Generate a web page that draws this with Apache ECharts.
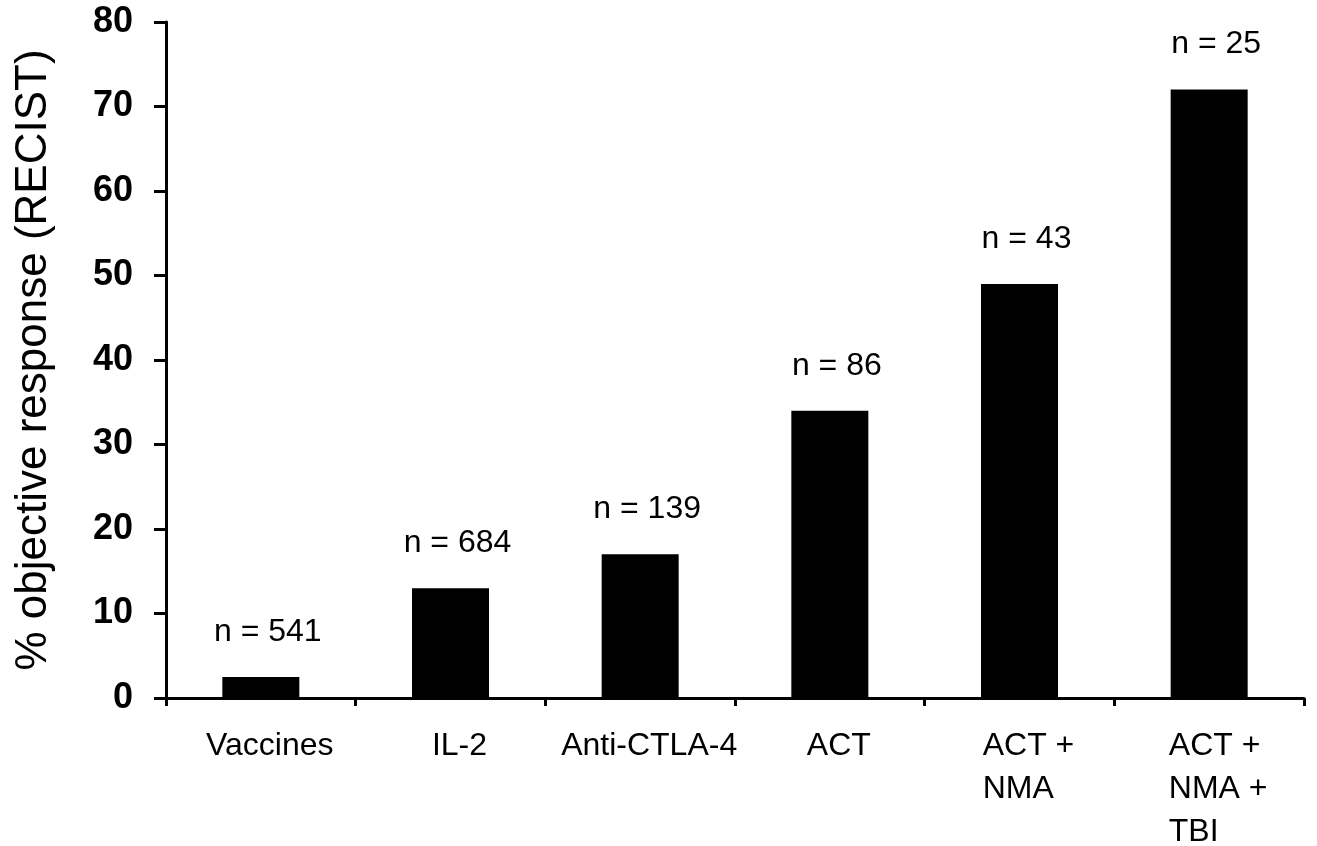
<!DOCTYPE html>
<html>
<head>
<meta charset="utf-8">
<script src="https://cdn.jsdelivr.net/npm/echarts@6/dist/echarts.min.js"></script>
<style>
  html, body { margin: 0; padding: 0; background: #fff; }
  #main { width: 1317px; height: 846px; }
</style>
</head>
<body>
<div id="main"></div>
<script>
// treatments and response rates
const categories = ['Vaccines', 'IL-2', 'Anti-CTLA-4', 'ACT', 'ACT +\nNMA', 'ACT +\nNMA +\nTBI'];
const responses = [2.5, 13, 17, 34, 49, 72];
const patientCounts = ['n = 541', 'n = 684', 'n = 139', 'n = 86', 'n = 43', 'n = 25'];
const yTicks = [0, 10, 20, 30, 40, 50, 60, 70, 80];

const chartDom = document.getElementById('main');
const myChart = echarts.init(chartDom);
const font = 'Liberation Sans, Arial, sans-serif';

const option = {
    animation: false,
    grid: { left: 166, right: 13, top: 22, bottom: 148, outerBoundsMode: 'none', containLabel: false },
    xAxis: {
        type: 'category',
        data: categories,
        axisLine: { lineStyle: { color: '#000', width: 3 } },
        axisTick: { show: true, length: 8, lineStyle: { color: '#000', width: 3 } },
        axisLabel: {
            margin: 27,
            color: '#000',
            fontFamily: font,
            fontSize: 32,
            lineHeight: 43,
            interval: 0,
            formatter: function (v) {
                return v.split('\n').map(function (s) { return '{l|' + s + '}'; }).join('\n');
            },
            rich: {
                l: { align: 'left', fontFamily: font, fontSize: 32, lineHeight: 43, color: '#000', padding: [0, 0, 0, 18] }
            }
        }
    },
    yAxis: {
        type: 'value',
        min: yTicks[0],
        max: yTicks[yTicks.length - 1],
        interval: 10,
        name: '% objective response (RECIST)',
        nameLocation: 'middle',
        nameGap: 110,
        nameTextStyle: { color: '#000', fontFamily: font, fontSize: 44 },
        axisLine: { show: true, lineStyle: { color: '#000', width: 3 } },
        axisTick: { show: true, length: 12, lineStyle: { color: '#000', width: 3 } },
        splitLine: { show: false },
        axisLabel: {
            margin: 33,
            color: '#000',
            fontFamily: font,
            fontSize: 36,
            fontWeight: 'bold'
        }
    },
    series: [
        {
            type: 'bar',
            data: responses,
            barWidth: 77,
            itemStyle: { color: '#000' },
            label: {
                show: true,
                position: 'top',
                distance: 29,
                offset: [7, 0],
                color: '#000',
                fontFamily: font,
                fontSize: 32,
                formatter: function (p) { return patientCounts[p.dataIndex]; }
            }
        }
    ]
};

myChart.setOption(option);
</script>
</body>
</html>
